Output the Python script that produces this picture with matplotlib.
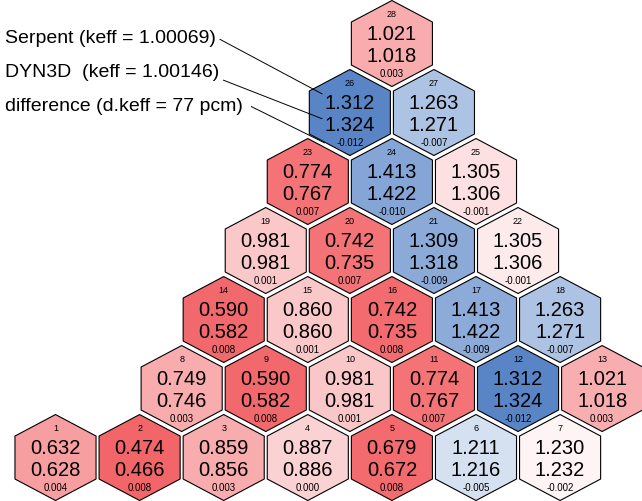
# -*- coding: utf8 -*-

import matplotlib
matplotlib.use('Agg')
import matplotlib.pyplot as plt
from matplotlib.patches import Polygon
from matplotlib.colors import LinearSegmentedColormap, Normalize


# assembly numbers per row (bottom row first)
rowList = [
    [1, 2, 3, 4, 5, 6, 7],
    [8, 9, 10, 11, 12, 13],
    [14, 15, 16, 17, 18],
    [19, 20, 21, 22],
    [23, 24, 25],
    [26, 27],
    [28],
]

serpentList = [0.632, 0.474, 0.859, 0.887, 0.679, 1.211, 1.230,
               0.749, 0.590, 0.981, 0.774, 1.312, 1.021,
               0.590, 0.860, 0.742, 1.413, 1.263,
               0.981, 0.742, 1.309, 1.305,
               0.774, 1.413, 1.305,
               1.312, 1.263,
               1.021]

dyn3dList = [0.628, 0.466, 0.856, 0.886, 0.672, 1.216, 1.232,
             0.746, 0.582, 0.981, 0.767, 1.324, 1.018,
             0.582, 0.860, 0.735, 1.422, 1.271,
             0.981, 0.735, 1.318, 1.306,
             0.767, 1.422, 1.306,
             1.324, 1.271,
             1.018]

# difference serpent - dyn3d (extra digit estimated from the colour)
diffList = [0.0041, 0.0081, 0.0031, 0.0004, 0.0077, -0.0052, -0.0020,
            0.0031, 0.0079, 0.0012, 0.0071, -0.0121, 0.0030,
            0.0079, 0.0011, 0.0077, -0.0092, -0.0074,
            0.0011, 0.0071, -0.0093, -0.0014,
            0.0071, -0.0097, -0.0007,
            -0.0121, -0.0074,
            0.0031]

legendList = ['Serpent (keff = 1.00069)',
              'DYN3D  (keff = 1.00146)',
              'difference (d.keff = 77 pcm)']

HALF_W = 0.482
RAD = 0.623


def hex_center(row, col):
    if row == 0:
        return col, 0.0
    return 1 + 0.5 * row + col, float(row)


def hexagon(cx, cy):
    return [(cx, cy + RAD), (cx + HALF_W, cy + RAD / 2),
            (cx + HALF_W, cy - RAD / 2), (cx, cy - RAD),
            (cx - HALF_W, cy - RAD / 2), (cx - HALF_W, cy + RAD / 2)]


def show_fig():
    fig = plt.figure(figsize=(6.42, 5.02), dpi=100)
    ax = fig.add_axes([0, 0, 1, 1])
    ax.set_xlim(-0.66, 6.974)
    ax.set_ylim(-0.63, 6.645)
    ax.axis('off')

    cmap = LinearSegmentedColormap.from_list('rw', ['#3c70bc', 'white', '#f26569'])
    norm = Normalize(vmin=-0.0138, vmax=0.0082)

    centers = {}
    for r, row in enumerate(rowList):
        for c, num in enumerate(row):
            i = num - 1
            cx, cy = hex_center(r, c)
            centers[num] = (cx, cy)
            ax.add_patch(Polygon(hexagon(cx, cy), closed=True,
                                 facecolor=cmap(norm(diffList[i])),
                                 edgecolor='black', lw=0.8))
            ax.text(cx, cy + 0.43, str(num), ha='center', va='center', fontsize=6.5)
            ax.text(cx, cy + 0.14, '%.3f' % serpentList[i], ha='center', va='center', fontsize=14.5)
            ax.text(cx, cy - 0.17, '%.3f' % dyn3dList[i], ha='center', va='center', fontsize=14.5)
            ax.text(cx, cy - 0.43, '%.3f' % diffList[i], ha='center', va='center', fontsize=7)

    # legend lines pointing at assembly 26
    cx, cy = centers[26]
    targets = [(cx - 0.33, cy + 0.27), (cx - 0.33, cy - 0.09), (cx - 0.30, cy - 0.44)]
    ypos = [0.924, 0.855, 0.787]
    rel = [(1, 0.5), (0.97, 0.25), (1.03, 0.5)]
    for txt, yy, pt, rp in zip(legendList, ypos, targets, rel):
        ax.annotate(txt, xy=pt, xycoords='data', xytext=(0.0078, yy),
                    textcoords='axes fraction', ha='left', va='center', fontsize=14,
                    arrowprops=dict(arrowstyle='-', lw=0.7, color='black',
                                    relpos=rp, shrinkA=1, shrinkB=0))

    plt.savefig('out.png', dpi=100)


def main():
    plt.rcParams['font.family'] = ['Liberation Sans', 'DejaVu Sans']
    show_fig()


if __name__ == "__main__":
    main()
